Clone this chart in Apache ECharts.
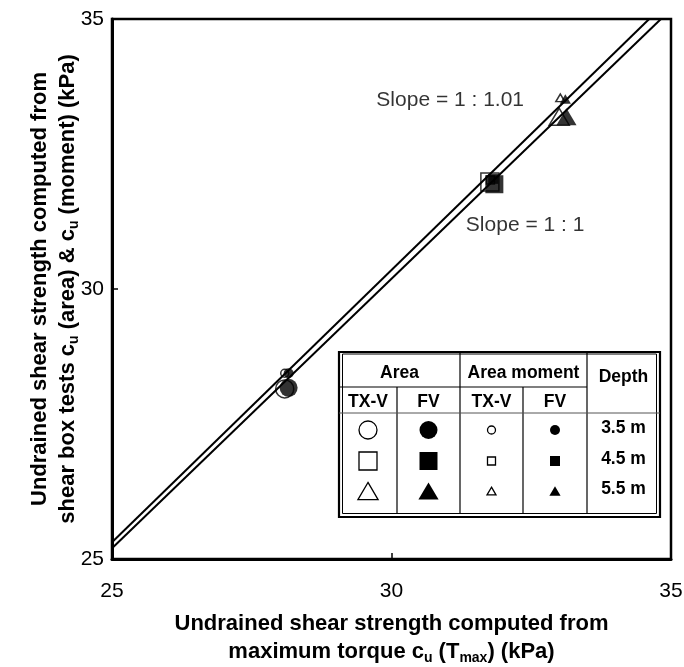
<!DOCTYPE html>
<html>
<head>
<meta charset="utf-8">
<script src="https://cdn.jsdelivr.net/npm/echarts@6/dist/echarts.min.js"></script>
<style>
  html, body { margin: 0; padding: 0; background: #fff; }
  #chart { width: 684px; height: 667px; }
</style>
</head>
<body>
<div id="chart"></div>
<script>
// Axis range and ticks (kPa)
const axisMin = 25;
const axisMax = 35;
const axisStep = 5;

// Shear strength from shear box tests vs. maximum torque, per depth (3.5 m, 4.5 m, 5.5 m)
const depths = ['3.5 m', '4.5 m', '5.5 m'];
const areaTXV   = [[28.09, 28.15], [31.76, 31.98], [33.00, 33.19]];
const areaFV    = [[28.16, 28.17], [31.84, 31.94], [33.13, 33.19]];
const momentTXV = [[28.09, 28.44], [31.77, 32.02], [33.02, 33.54]];
const momentFV  = [[28.16, 28.44], [31.82, 32.04], [33.11, 33.52]];

// Fitted lines (end points)
const lineSlope1   = [[25, 25.20], [34.82, 35]];
const lineSlope101 = [[25, 25.31], [34.61, 35]];

// Line annotations: [x, y, text]
const slopeNotes = [
  [31.05, 33.50, 'Slope = 1 : 1.01'],
  [32.39, 31.19, 'Slope = 1 : 1']
];

const FONT = '"Liberation Sans", Arial, Helvetica, sans-serif';
const depthSymbols = ['circle', 'rect', 'triangle'];

function pointSeries(name, data, bigSize, filled) {
  return {
    name: name,
    type: 'scatter',
    z: filled ? 4 : 3,
    data: data.map((p, i) => ({
      value: p,
      symbol: depthSymbols[i],
      symbolSize: depthSymbols[i] === 'triangle' ? [bigSize * 1.12, bigSize * 0.95] : bigSize
    })),
    itemStyle: filled
      ? { color: '#000', borderColor: '#000', borderWidth: 0 }
      : { color: 'rgba(0,0,0,0)', borderColor: '#000', borderWidth: 1.5 },
    emphasis: { disabled: true }
  };
}

function lineSeries(name, data) {
  return {
    name: name,
    type: 'line',
    data: data,
    symbol: 'none',
    z: 2,
    lineStyle: { color: '#000', width: 2 },
    emphasis: { disabled: true }
  };
}

// Legend table drawn as graphics
const T = { x0: 339, x1: 660, y0: 352, y1: 517, c1: 397, c2: 460, c3: 523, c4: 587, r1: 387, r2: 413 };
const colCenters = [368, 428.5, 491.5, 555];
const rowCenters = [430, 461, 491];

function seg(x1, y1, x2, y2, w, color) {
  return { type: 'line', shape: { x1, y1, x2, y2 }, style: { stroke: color || '#000', lineWidth: w || 1.2 }, z: 10 };
}
function txt(x, y, s) {
  return { type: 'text', x: x, y: y, z: 10,
    style: { text: s, font: 'bold 17.5px ' + FONT, fill: '#000', align: 'center', verticalAlign: 'middle' } };
}
function legendSymbol(kind, cx, cy, size, filled) {
  const style = filled ? { fill: '#000', stroke: '#000', lineWidth: 0 }
                       : { fill: '#fff', stroke: '#000', lineWidth: 1.3 };
  if (kind === 'circle') {
    return { type: 'circle', shape: { cx, cy, r: size / 2 }, style, z: 10 };
  }
  if (kind === 'rect') {
    return { type: 'rect', shape: { x: cx - size / 2, y: cy - size / 2, width: size, height: size }, style, z: 10 };
  }
  const w = size * 1.12, h = size * 0.95;
  return { type: 'polygon', shape: { points: [[cx, cy - h / 2], [cx + w / 2, cy + h / 2], [cx - w / 2, cy + h / 2]] }, style, z: 10 };
}

const tableEls = [
  { type: 'rect', shape: { x: T.x0, y: T.y0, width: T.x1 - T.x0, height: T.y1 - T.y0 },
    style: { fill: '#fff', stroke: '#000', lineWidth: 2.2 }, z: 9 },
  { type: 'rect', shape: { x: T.x0 + 3.5, y: T.y0 + 2, width: T.x1 - T.x0 - 7, height: T.y1 - T.y0 - 5.5 },
    style: { fill: 'none', stroke: '#000', lineWidth: 1 }, z: 10 },
  seg(T.c1, T.r1, T.c1, T.y1 - 3.5),
  seg(T.c2, T.y0, T.c2, T.y1 - 3.5),
  seg(T.c3, T.r1, T.c3, T.y1 - 3.5),
  seg(T.c4, T.y0, T.c4, T.y1 - 3.5),
  seg(T.x0, T.r1, T.c4, T.r1),
  seg(T.x0, T.r2, T.x1, T.r2, 1, '#555'),
  txt((T.x0 + T.c2) / 2, 373, 'Area'),
  txt((T.c2 + T.c4) / 2, 373, 'Area moment'),
  txt((T.c4 + T.x1) / 2, 377, 'Depth'),
  txt(colCenters[0], 402, 'TX-V'),
  txt(colCenters[1], 402, 'FV'),
  txt(colCenters[2], 402, 'TX-V'),
  txt(colCenters[3], 402, 'FV')
];
const legendCols = [
  { size: 18, filled: false },
  { size: 18, filled: true },
  { size: 8, filled: false },
  { size: 10, filled: true }
];
depths.forEach((d, i) => {
  legendCols.forEach((c, j) => {
    tableEls.push(legendSymbol(depthSymbols[i], colCenters[j], rowCenters[i], c.size, c.filled));
  });
  tableEls.push(txt((T.c4 + T.x1) / 2, rowCenters[i] - 2, d));
});

const titleRich = {
  t: { fontSize: 22, fontWeight: 'bold', fontFamily: FONT, color: '#000', lineHeight: 28 },
  s: { fontSize: 14, fontWeight: 'bold', fontFamily: FONT, color: '#000', lineHeight: 28, verticalAlign: 'bottom', padding: [0, 0, 1, 0] }
};

const axisCommon = {
  type: 'value',
  min: axisMin,
  max: axisMax,
  interval: axisStep,
  nameLocation: 'middle',
  nameMoveOverlap: false,
  axisLine: { show: true, lineStyle: { color: '#000', width: 3 } },
  axisTick: { show: true, inside: true, length: 6, lineStyle: { color: '#000', width: 1.5 } },
  axisLabel: { color: '#000', fontSize: 21, fontFamily: FONT },
  splitLine: { show: false }
};

const chart = echarts.init(document.getElementById('chart'), null, { renderer: 'canvas' });
chart.setOption({
  animation: false,
  backgroundColor: '#fff',
  grid: {
    left: 112, right: 13, top: 19, bottom: 108,
    outerBoundsMode: 'none',
    containLabel: false,
    show: true, borderColor: '#000', borderWidth: 2.5, backgroundColor: 'transparent'
  },
  xAxis: Object.assign({}, axisCommon, {
    name: '{t|Undrained shear strength computed from}\n{t|maximum torque c}{s|u}{t| (T}{s|max}{t|) (kPa)}',
    nameGap: 51,
    nameTextStyle: { rich: titleRich },
    axisLabel: Object.assign({}, axisCommon.axisLabel, { margin: 22 })
  }),
  yAxis: Object.assign({}, axisCommon, {
    name: '{t|Undrained shear strength computed from}\n{t|shear box tests c}{s|u}{t| (area) & c}{s|u}{t| (moment) (kPa)}',
    nameGap: 30,
    nameRotate: 90,
    nameTextStyle: { rich: titleRich },
    axisLabel: Object.assign({}, axisCommon.axisLabel, { margin: 8 })
  }),
  series: [
    lineSeries('Slope 1:1', lineSlope1),
    lineSeries('Slope 1:1.01', lineSlope101),
    pointSeries('Area TX-V', areaTXV, 18, false),
    pointSeries('Area moment TX-V', momentTXV, 8, false),
    pointSeries('Area FV', areaFV, 18, true),
    pointSeries('Area moment FV', momentFV, 10, true),
    {
      name: 'Slope notes',
      type: 'scatter',
      symbolSize: 0,
      silent: true,
      data: slopeNotes.map(n => ({ value: [n[0], n[1]], name: n[2] })),
      label: { show: true, position: 'inside', formatter: '{b}', color: '#000', fontSize: 21, fontFamily: FONT }
    }
  ],
  graphic: tableEls
});
</script>
</body>
</html>
